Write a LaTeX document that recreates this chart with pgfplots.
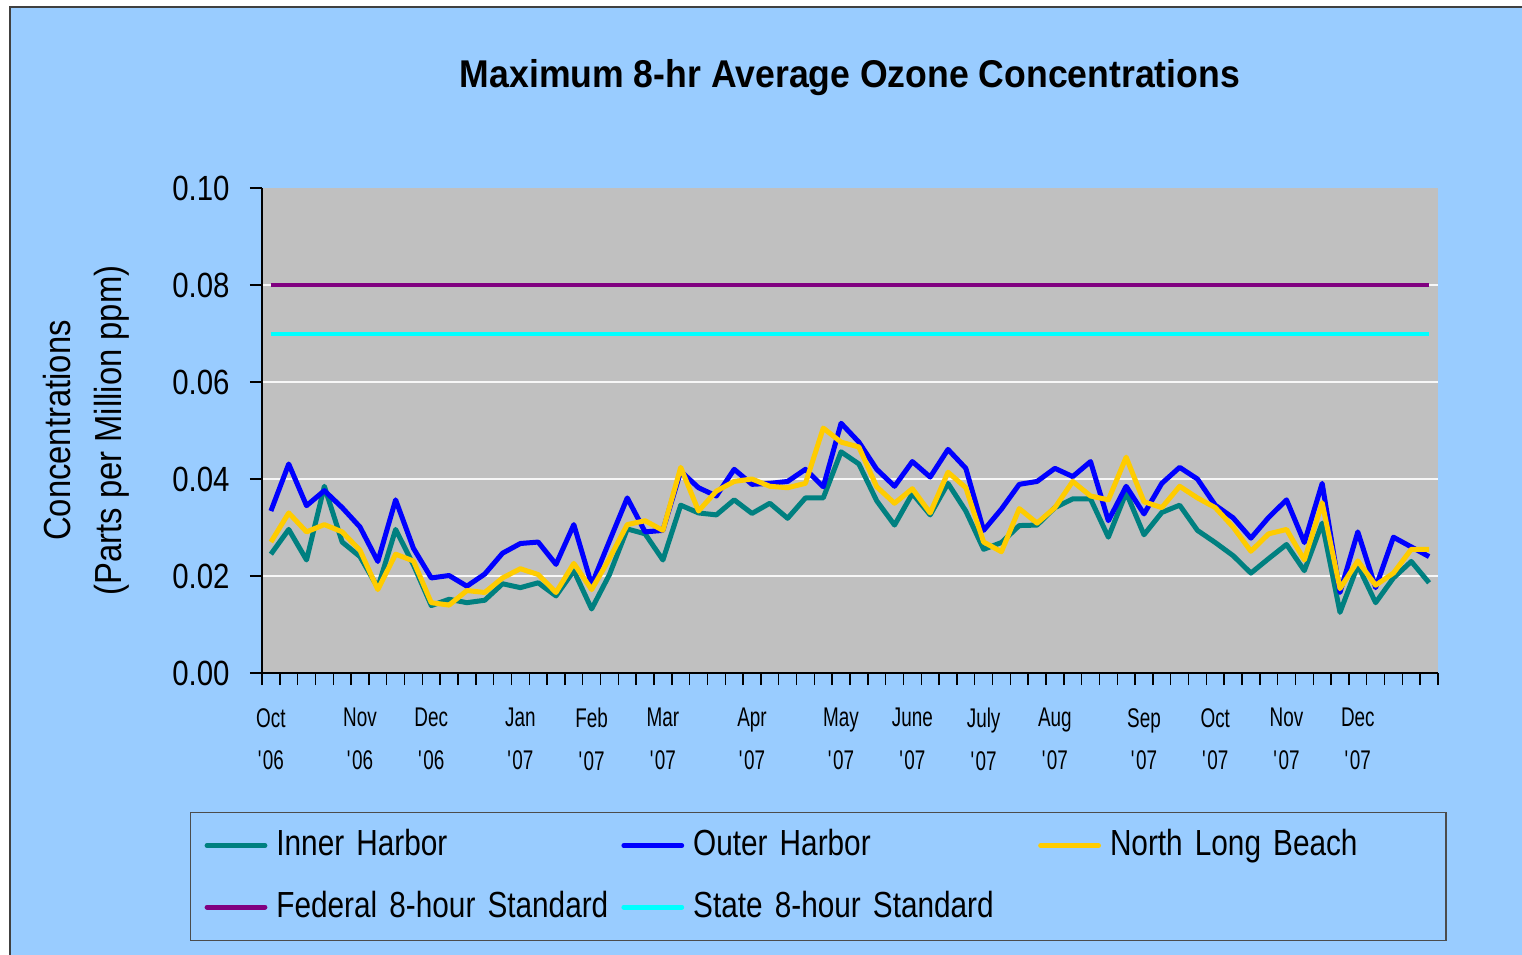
\documentclass[border=0pt]{standalone}
\usepackage{fontspec}
\setmainfont{Liberation Sans}[FakeStretch=0.84]
\newfontfamily\titlefont{Liberation Sans}[FakeStretch=0.92]
\newfontfamily\xtickfont{Liberation Sans}[FakeStretch=0.70]
\newfontfamily\labelfont{Liberation Sans}[FakeStretch=0.87]
\newfontfamily\legfont{Liberation Sans}[FakeStretch=0.82]
\usepackage{pgfplots}
\pgfplotsset{compat=1.18}
\usepackage{pgfplotstable}

\definecolor{chartbg}{RGB}{153,204,255}
\definecolor{plotbg}{RGB}{192,192,192}
\definecolor{cinner}{RGB}{0,128,128}
\definecolor{couter}{RGB}{0,0,255}
\definecolor{cnlb}{RGB}{255,204,0}
\definecolor{cfed}{RGB}{128,0,128}
\definecolor{cstate}{RGB}{0,255,255}

\pgfplotstableread{
x inner outer nlb
0 0.0245 0.0334 0.0270
1 0.0296 0.0431 0.0330
2 0.0233 0.0345 0.0291
3 0.0385 0.0376 0.0306
4 0.0270 0.0341 0.0291
5 0.0240 0.0301 0.0253
6 0.0176 0.0230 0.0172
7 0.0296 0.0357 0.0245
8 0.0223 0.0257 0.0231
9 0.0139 0.0196 0.0145
10 0.0152 0.0201 0.0140
11 0.0145 0.0179 0.0170
12 0.0150 0.0204 0.0166
13 0.0184 0.0247 0.0196
14 0.0176 0.0267 0.0215
15 0.0186 0.0270 0.0203
16 0.0159 0.0224 0.0166
17 0.0211 0.0306 0.0226
18 0.0132 0.0182 0.0172
19 0.0203 0.0272 0.0236
20 0.0297 0.0361 0.0306
21 0.0287 0.0291 0.0314
22 0.0233 0.0294 0.0294
23 0.0346 0.0416 0.0424
24 0.0330 0.0382 0.0334
25 0.0326 0.0365 0.0375
26 0.0357 0.0420 0.0395
27 0.0329 0.0389 0.0400
28 0.0350 0.0391 0.0385
29 0.0319 0.0395 0.0382
30 0.0361 0.0420 0.0391
31 0.0361 0.0384 0.0505
32 0.0456 0.0515 0.0476
33 0.0431 0.0476 0.0466
34 0.0355 0.0420 0.0384
35 0.0305 0.0385 0.0350
36 0.0370 0.0436 0.0380
37 0.0326 0.0404 0.0330
38 0.0391 0.0461 0.0414
39 0.0334 0.0422 0.0382
40 0.0255 0.0294 0.0270
41 0.0269 0.0338 0.0250
42 0.0304 0.0389 0.0339
43 0.0305 0.0395 0.0309
44 0.0341 0.0422 0.0341
45 0.0359 0.0405 0.0395
46 0.0359 0.0436 0.0365
47 0.0280 0.0314 0.0357
48 0.0372 0.0385 0.0445
49 0.0285 0.0328 0.0353
50 0.0331 0.0391 0.0341
51 0.0346 0.0424 0.0385
52 0.0294 0.0400 0.0361
53 0.0269 0.0346 0.0341
54 0.0242 0.0320 0.0301
55 0.0206 0.0278 0.0251
56 0.0236 0.0321 0.0287
57 0.0265 0.0357 0.0296
58 0.0211 0.0269 0.0233
59 0.0309 0.0391 0.0351
60 0.0125 0.0166 0.0174
61 0.0222 0.0291 0.0231
62 0.0145 0.0176 0.0181
63 0.0196 0.0280 0.0206
64 0.0230 0.0260 0.0255
65 0.0186 0.0240 0.0255
}\data

\begin{document}
\begin{tikzpicture}
\useasboundingbox (-131pt,-140.5pt) rectangle (630pt,336.5pt);
\begin{scope}[x=0.5pt,y=-0.5pt,shift={(-262,-673)}]
\fill[white] (-5,-5) rectangle (1530,960);
\fill[chartbg] (10,7) rectangle (1540,970);
\draw[line width=1pt, color=black!75] (10,970) -- (10,7) -- (1540,7);
\end{scope}
\begin{axis}[
  at={(0,0)}, anchor=south west,
  scale only axis, width=588pt, height=242.5pt,
  xmin=-0.5, xmax=65.5, ymin=0, ymax=0.1,
  axis background/.style={fill=plotbg},
  axis x line*=bottom, axis y line*=left,
  axis line style={-, black, line width=0.9pt},
  tick align=outside, major tick length=6pt,
  tick style={black, line width=0.7pt},
  xtick={-0.5,0.5,...,65.5}, xticklabel=\empty,
  extra x ticks={0,5,9,14,18,22,27,32,36,40,44,49,53,57,61},
  extra x tick labels={{Oct\\\textquotesingle06},{Nov\\\textquotesingle06},{Dec\\\textquotesingle06},{Jan\\\textquotesingle07},{Feb\\\textquotesingle07},{Mar\\\textquotesingle07},{Apr\\\textquotesingle07},{May\\\textquotesingle07},{June\\\textquotesingle07},{July\\\textquotesingle07},{Aug\\\textquotesingle07},{Sep\\\textquotesingle07},{Oct\\\textquotesingle07},{Nov\\\textquotesingle07},{Dec\\\textquotesingle07}},
  extra x tick style={major tick length=0pt, grid=none},
  xticklabel style={font=\xtickfont\fontsize{13.5}{21.3}\selectfont, align=center, anchor=north, inner sep=0pt, yshift=-17.5pt},
  ytick={0,0.02,0.04,0.06,0.08}, extra y ticks={0.1}, extra y tick style={grid=none},
  scaled y ticks=false,
  yticklabel style={font=\fontsize{17.5}{20}\selectfont, anchor=east, inner sep=0pt, xshift=-10pt,
    /pgf/number format/.cd, fixed, fixed zerofill, precision=2, assume math mode=true},
  ymajorgrids, major grid style={white!94!gray, line width=0.8pt},
  title={Maximum 8-hr Average Ozone Concentrations},
  title style={font=\titlefont\bfseries\fontsize{19.35}{23}\selectfont, at={(axis description cs:0.5,1.1815)}, anchor=base, inner sep=0pt},
  ylabel={Concentrations\\(Parts per Million ppm)},
  ylabel style={align=center, font=\labelfont\fontsize{18.85}{25.5}\selectfont, at={(axis description cs:-0.11224,0.5)}, anchor=south, inner sep=0pt},
  legend columns=3,
  legend cell align=left,
  legend image code/.code={\draw[#1, line width=2.4pt, line cap=round] (0pt,0pt) -- (29pt,0pt);},
  legend style={at={(axis description cs:-0.06122,-0.2866)}, anchor=north west,
    draw=black!70, line width=0.6pt, fill=none,
    font=\legfont\fontsize{18.15}{21}\selectfont,
    inner xsep=7pt, inner ysep=7.5pt, row sep=12.75pt,
    nodes={inner xsep=0pt, inner ysep=0pt, text width=170pt, align=left, text height=14pt, text depth=4pt},
    /tikz/every odd column/.append style={column sep=4.5pt},
    /tikz/every even column/.append style={column sep=2.5pt},
    /tikz/column 6/.append style={nodes={text width=161pt}}},
  no markers,
]
\addplot[cinner, line width=2.5pt, line join=round] table[x=x,y=inner]{\data};
\addlegendentry{Inner Harbor}
\addplot[couter, line width=2.5pt, line join=round] table[x=x,y=outer]{\data};
\addlegendentry{Outer Harbor}
\addplot[cnlb, line width=2.5pt, line join=round] table[x=x,y=nlb]{\data};
\addlegendentry{North Long Beach}
\addplot[cfed, line width=2pt] coordinates {(0,0.08) (65,0.08)};
\addlegendentry{Federal 8-hour Standard}
\addplot[cstate, line width=2pt] coordinates {(0,0.07) (65,0.07)};
\addlegendentry{State 8-hour Standard}
\end{axis}
\end{tikzpicture}
\end{document}
